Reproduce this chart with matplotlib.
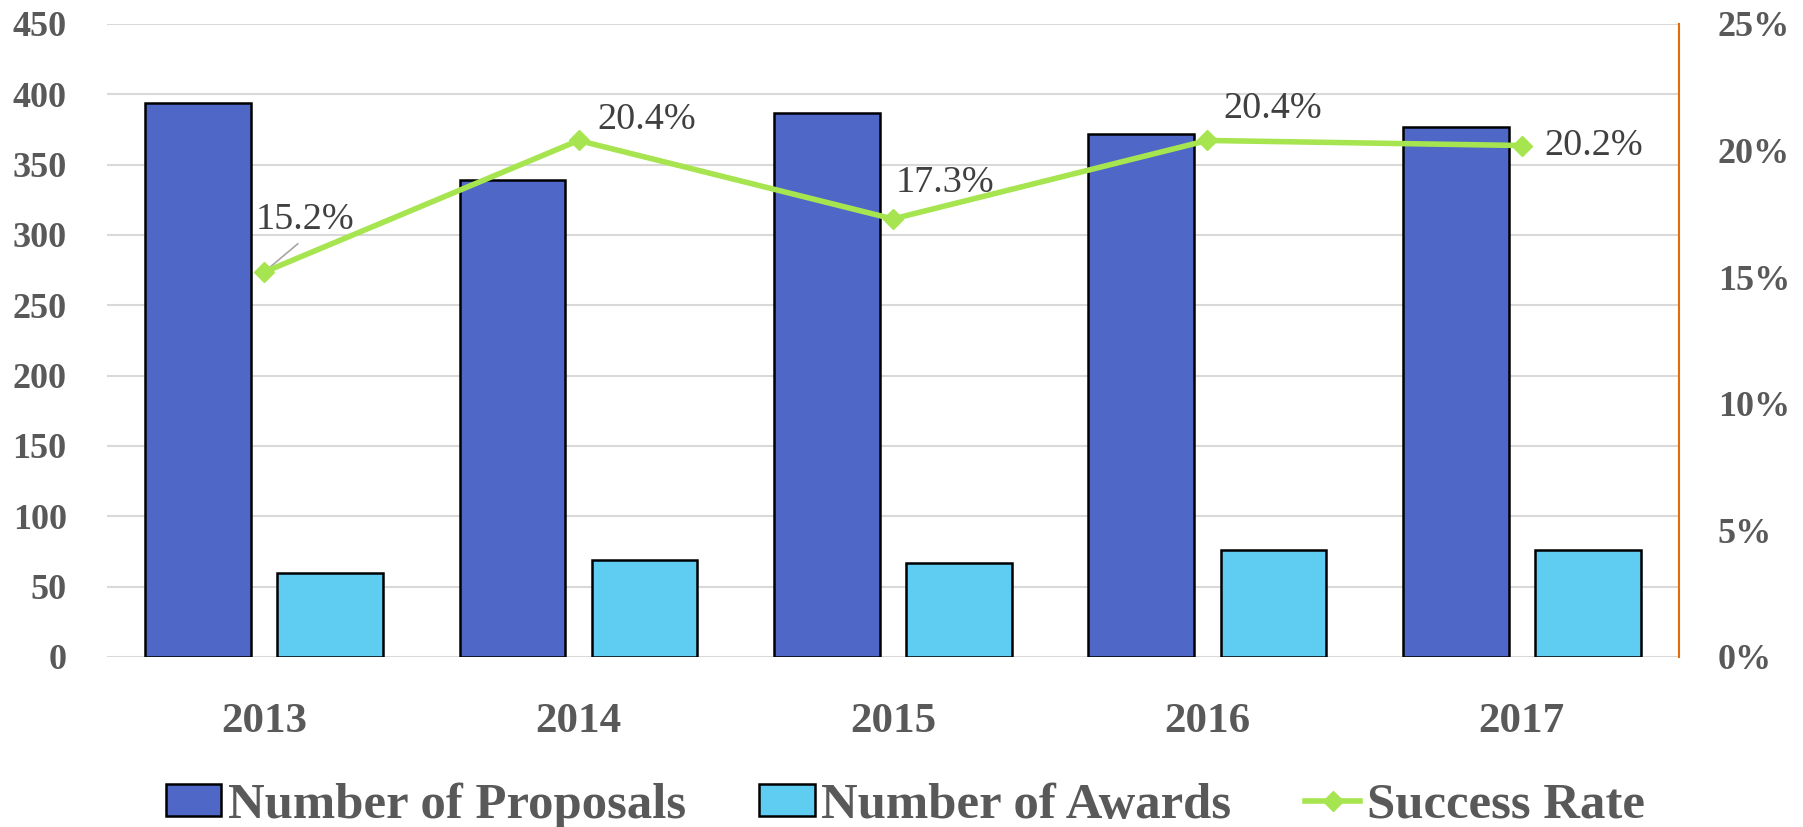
import matplotlib.pyplot as plt
import numpy as np

# data
years = ['2013', '2014', '2015', '2016', '2017']
proposals = [394, 339, 387, 372, 377]
awards = [60, 69, 67, 76, 76]
success_rate = [15.2, 20.4, 17.3, 20.4, 20.2]

# label offsets for the rate labels (pixels), and which one gets a leader line
label_offsets = [(-8, 52), (19, 21), (3, 36), (16, 32), (23, 0)]
label_leader = [True, False, False, False, False]

plt.rcParams['font.family'] = ['Liberation Serif', 'DejaVu Serif']

fig = plt.figure(figsize=(18.03, 8.27), dpi=100)
ax = fig.add_axes([0.0593, 0.2056, 0.8719, 0.7654])
ax2 = ax.twinx()

x = np.arange(len(years))
w = 0.336
ax.bar(x - 0.21, proposals, w, color='#4F67C7', edgecolor='black', linewidth=1.8,
       label='Number of Proposals', zorder=3)
ax.bar(x + 0.21, awards, w, color='#5FCCF2', edgecolor='black', linewidth=1.8,
       label='Number of Awards', zorder=3)

ax.set_xlim(-0.5, len(years) - 0.5)
ax.set_ylim(0, 450)
ax.set_yticks(np.arange(0, 451, 50))
ax.yaxis.grid(True, color='#D9D9D9', linewidth=1.5, zorder=0)
ax.set_axisbelow(True)
for s in ['left', 'right', 'top', 'bottom']:
    ax.spines[s].set_visible(False)
ax.tick_params(axis='y', length=0, pad=29, labelsize=26, labelcolor='#595959')
ax.tick_params(axis='x', length=0, pad=33, labelsize=31, labelcolor='#595959')
ax.set_xticks(x)
ax.set_xticklabels(years, fontweight='bold')
for t in ax.get_yticklabels():
    t.set_fontweight('bold')

ax2.plot(x, success_rate, color='#A6E54F', linewidth=4, marker='D', markersize=10,
         label='Success Rate', zorder=4)
ax2.set_ylim(0, 25)
ax2.set_yticks(np.arange(0, 26, 5))
ax2.set_yticklabels(['{0}%'.format(v) for v in range(0, 26, 5)], fontweight='bold')
ax2.tick_params(axis='y', length=0, pad=28, labelsize=26, labelcolor='#595959')
for s in ['left', 'top', 'bottom']:
    ax2.spines[s].set_visible(False)
ax2.spines['right'].set_color('#E36C09')
ax2.spines['right'].set_linewidth(1.5)

for i, v in enumerate(success_rate):
    dx, dy = label_offsets[i]
    if label_leader[i]:
        ax2.annotate('{0:.1f}%'.format(v), xy=(x[i], v), xytext=(dx, dy),
                     textcoords='offset pixels', ha='left', va='center',
                     fontsize=27.5, color='#404040',
                     arrowprops=dict(arrowstyle='-', color='#A6A6A6', lw=1.2,
                                     relpos=(0.5, 0.0), shrinkA=4, shrinkB=3))
    else:
        ax2.annotate('{0:.1f}%'.format(v), xy=(x[i], v), xytext=(dx, dy),
                     textcoords='offset pixels', ha='left', va='center',
                     fontsize=27.5, color='#404040')

h1, l1 = ax.get_legend_handles_labels()
h2, l2 = ax2.get_legend_handles_labels()
leg = fig.legend(h1 + h2, l1 + l2, loc='center', bbox_to_anchor=(0.502, 0.026), ncol=3,
                 frameon=False, handlelength=1.1, handleheight=0.6, handletextpad=0.12,
                 columnspacing=1.45, prop={'size': 36.5, 'weight': 'bold'})
for t in leg.get_texts():
    t.set_color('#595959')

fig.savefig('out.png', dpi=100)
